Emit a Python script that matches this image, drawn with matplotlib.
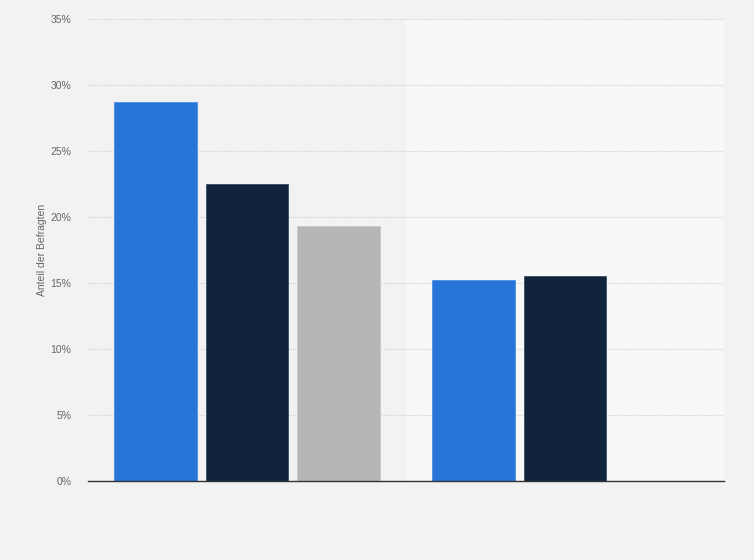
import numpy as np
import matplotlib.pyplot as plt
from matplotlib.ticker import FuncFormatter

plt.rcParams["font.family"] = ["Liberation Sans", "DejaVu Sans"]

categories = ["Gruppe 1", "Gruppe 2"]
series_a = [28.7, 15.2]
series_b = [22.5, 15.5]
series_c = [19.3, np.nan]
yticks = [0, 5, 10, 15, 20, 25, 30, 35]

fig = plt.figure(figsize=(7.54, 5.6), dpi=100)
fig.patch.set_facecolor("#f2f2f2")
ax = fig.add_axes([88 / 754, 1 - 481 / 560, 636 / 754, 462 / 560])
ax.set_facecolor("#f2f2f2")

x = np.arange(len(categories))
# lighter band behind every second category
ax.axvspan(0.5, 1.5, color="#f8f8f8", zorder=0)

w = 0.26
step = 0.287
ax.bar(x - step, series_a, w, color="#2775d9", edgecolor="#4a8ee6", linewidth=0.6, zorder=3)
ax.bar(x, series_b, w, color="#10253c", edgecolor="#3a4d63", linewidth=0.6, zorder=3)
ax.bar(x + step, series_c, w, color="#b6b6b6", edgecolor="#c8c8c8", linewidth=0.6, zorder=3)

ax.set_xlim(-0.5, 1.5)
ax.set_ylim(0, 35)
ax.set_yticks(yticks)
ax.yaxis.set_major_formatter(FuncFormatter(lambda v, p: f"{v:.0f}%"))
ax.set_xticks([])
ax.grid(axis="y", color="#d2d2d2", linestyle=(0, (1, 1)), linewidth=0.8, zorder=1)
ax.tick_params(axis="y", length=0, pad=12, labelsize=7.5, labelcolor="#666666")

for s in ["top", "right", "left"]:
    ax.spines[s].set_visible(False)
ax.spines["bottom"].set_color("#333333")
ax.spines["bottom"].set_linewidth(1.0)
ax.spines["bottom"].set_zorder(4)

ax.set_ylabel("Anteil der Befragten", fontsize=7.5, color="#666666")
ax.yaxis.set_label_coords(-0.064, 0.5)

fig.savefig("out.png", dpi=100, facecolor=fig.get_facecolor())
